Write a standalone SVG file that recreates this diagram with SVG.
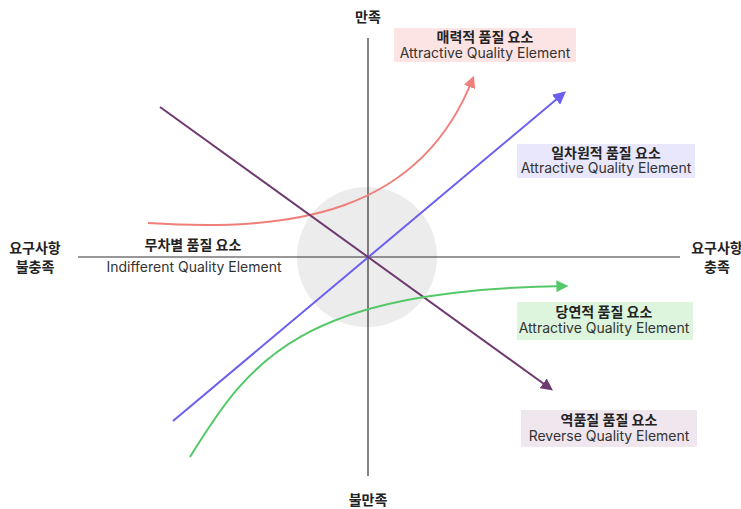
<svg xmlns="http://www.w3.org/2000/svg" width="741" height="509" viewBox="0 0 741 509">
<style>
.ko{font-family:Inter,"Noto Sans CJK KR",sans-serif;font-weight:700;font-size:14px;fill:#222;text-anchor:middle}
.en{font-family:Inter,"Noto Sans",sans-serif;font-size:14px;fill:#333;text-anchor:middle}
.ax{stroke:#333;stroke-width:1.2;fill:none}
.c{fill:none;stroke-width:2}
</style>
<defs>
<marker id="aR" viewBox="0 0 10 10" refX="8" refY="5" markerWidth="12" markerHeight="12" orient="auto" markerUnits="userSpaceOnUse"><path d="M0,0L10,5L0,10z" fill="#f07f7a"/></marker>
<marker id="aB" viewBox="0 0 10 10" refX="8" refY="5" markerWidth="13" markerHeight="13" orient="auto" markerUnits="userSpaceOnUse"><path d="M0,0L10,5L0,10z" fill="#6a5ff0"/></marker>
<marker id="aG" viewBox="0 0 10 10" refX="8" refY="5" markerWidth="12" markerHeight="12" orient="auto" markerUnits="userSpaceOnUse"><path d="M0,0L10,5L0,10z" fill="#55c96a"/></marker>
<marker id="aP" viewBox="0 0 10 10" refX="8" refY="5" markerWidth="12" markerHeight="12" orient="auto" markerUnits="userSpaceOnUse"><path d="M0,0L10,5L0,10z" fill="#6e3a70"/></marker>
</defs>
<rect width="741" height="509" fill="#fff"/>
<circle cx="367" cy="257" r="70" fill="#ececec"/>
<g id="axes">
<line class="ax" x1="368" y1="38" x2="368" y2="476"/>
<line class="ax" x1="78" y1="257" x2="680" y2="257"/>
</g>
<g id="connectors">
<path class="c" stroke="#f07f7a" d="M148,223 C290,232 420,215 473,78" marker-end="url(#aR)"/>
<line class="c" stroke="#6a5ff0" x1="173" y1="421" x2="564" y2="93" marker-end="url(#aB)"/>
<line class="c" stroke="#6e3a70" x1="160" y1="107" x2="551" y2="389" marker-end="url(#aP)"/>
<path class="c" stroke="#55c96a" d="M190,457 C250,360 300,290 566,286" marker-end="url(#aG)"/>
</g>
<g id="label-top"><text class="ko" x="368" y="22">만족</text></g>
<g id="label-bottom"><text class="ko" x="368" y="505">불만족</text></g>
<g id="label-left"><text class="ko" x="35" y="253">요구사항</text><text class="ko" x="35" y="272">불충족</text></g>
<g id="label-right"><text class="ko" x="717" y="253">요구사항</text><text class="ko" x="717" y="272">충족</text></g>
<g id="indifferent"><text class="ko" x="193" y="250">무차별 품질 요소</text><text class="en" x="194" y="272">Indifferent Quality Element</text></g>
<g id="attractive"><rect x="394" y="28" width="182" height="34" fill="#fde4e4"/><text class="ko" x="485" y="42">매력적 품질 요소</text><text class="en" x="485" y="58">Attractive Quality Element</text></g>
<g id="one-dimensional"><rect x="517" y="144" width="178" height="34" fill="#e9e7fb"/><text class="ko" x="606" y="158">일차원적 품질 요소</text><text class="en" x="606" y="173">Attractive Quality Element</text></g>
<g id="must-be"><rect x="517" y="302" width="176" height="38" fill="#dcf5dc"/><text class="ko" x="604" y="317">당연적 품질 요소</text><text class="en" x="604" y="333">Attractive Quality Element</text></g>
<g id="reverse"><rect x="521" y="410" width="176" height="37" fill="#efe6ee"/><text class="ko" x="609" y="425">역품질 품질 요소</text><text class="en" x="609" y="441">Reverse Quality Element</text></g>
</svg>
